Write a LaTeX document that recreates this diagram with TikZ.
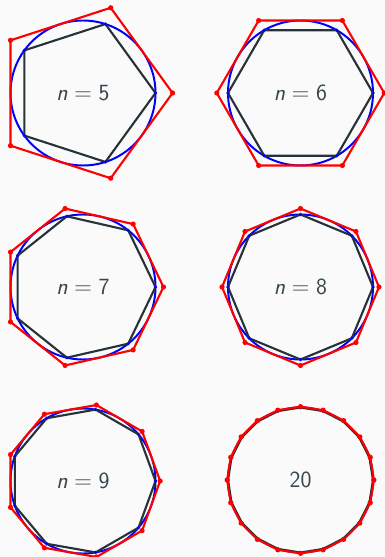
\documentclass[tikz,border=0pt]{standalone}
\definecolor{polyink}{HTML}{263238}
\definecolor{labelink}{HTML}{37474F}
\definecolor{paper}{HTML}{FAFAFA}
\tikzset{
  incircle/.style={blue, line width=1.4pt},
  inpoly/.style={polyink, line width=1.5pt, line join=round},
  outpoly/.style={red, line width=1.5pt, line join=round},
  indot/.style={fill=blue},
  outdot/.style={fill=red},
  caption/.style={text=labelink, font=\sffamily\fontsize{16.5}{19}\selectfont}
}
\newcommand{\nlabel}[1]{\textit{n}${}={}$#1}

\begin{document}
\begin{tikzpicture}[x=0.025cm, y=-0.025cm]
  % page
  \fill[paper] (0,0) rectangle (385,557);
  \useasboundingbox (0,0) rectangle (385,557);
  \def\rad{72.5}

  % circle, inscribed and circumscribed n-gons
  \foreach \n/\cx/\cy/\txt in {5/83/93/{\nlabel{5}}, 6/300.5/93/{\nlabel{6}},
      7/83/287/{\nlabel{7}}, 8/300.5/287/{\nlabel{8}},
      9/83/481/{\nlabel{9}}, 20/300.5/480/{20}}{
    \pgfmathsetmacro{\Rad}{\rad/cos(180/\n)}
    \draw[incircle] (\cx,\cy) circle[radius=\rad];
    \draw[inpoly] ({\cx+\rad},\cy)
      \foreach \k in {1,...,\n}{ -- ({\cx+\rad*cos(360*\k/\n)},{\cy+\rad*sin(360*\k/\n)}) } -- cycle;
    \draw[outpoly] ({\cx+\Rad},\cy)
      \foreach \k in {1,...,\n}{ -- ({\cx+\Rad*cos(360*\k/\n)},{\cy+\Rad*sin(360*\k/\n)}) } -- cycle;
    \foreach \k in {1,...,\n}{
      \fill[indot] ({\cx+\rad*cos(360*\k/\n)},{\cy+\rad*sin(360*\k/\n)}) circle[radius=1.8];
      \fill[outdot] ({\cx+\Rad*cos(360*\k/\n)},{\cy+\Rad*sin(360*\k/\n)}) circle[radius=2.6];
    }
    \node[caption] (label-\n) at (\cx,\cy) {\txt};
  }
\end{tikzpicture}
\end{document}
